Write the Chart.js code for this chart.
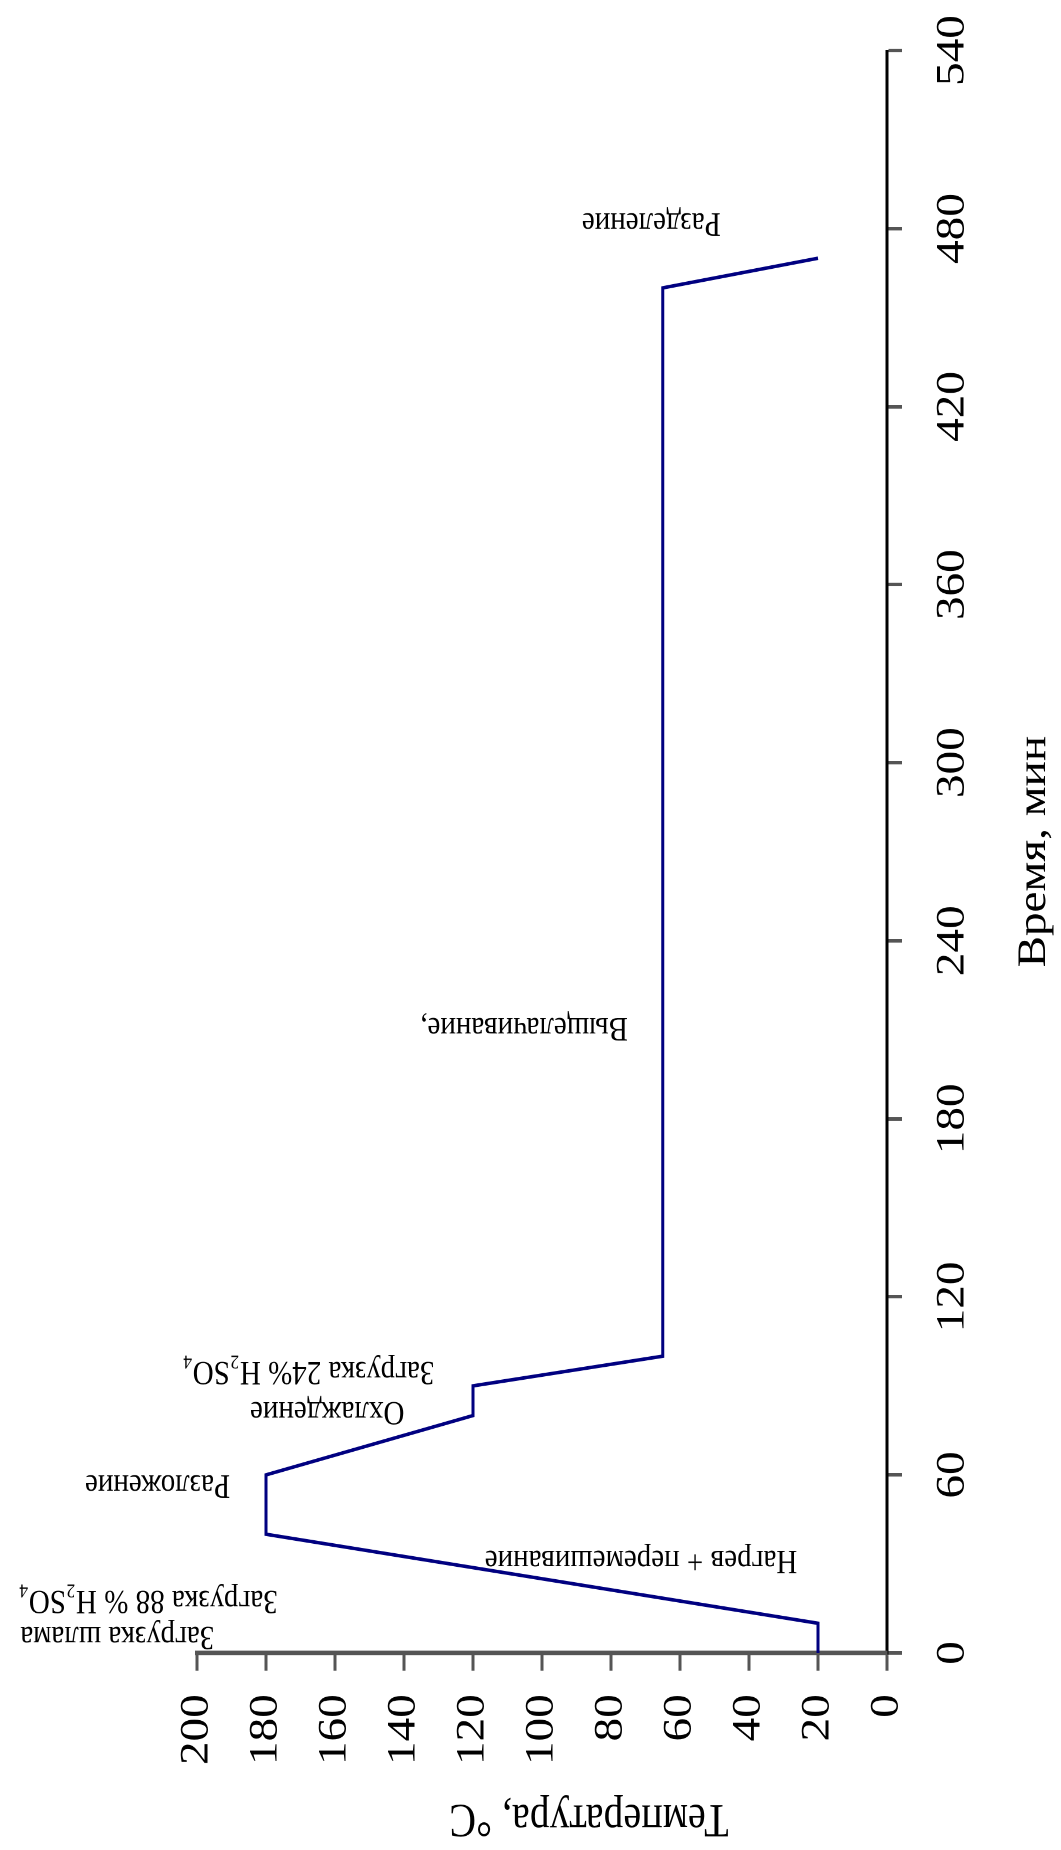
<!DOCTYPE html>
<html lang="ru">
<head>
<meta charset="utf-8">
<title>Температурный режим процесса</title>
<script src="https://cdn.jsdelivr.net/npm/chart.js@4/dist/chart.umd.min.js"></script>
<style>
  html, body { margin: 0; padding: 0; background: #fff; overflow: hidden; }
  body { width: 1061px; height: 1850px; position: relative; }
  /* the chart is laid out landscape and turned to stand upright along the page */
  #frame {
    position: absolute; left: 0; top: 0;
    width: 1568px; height: 1061px;
    transform-origin: 0 0;
    transform: translate(0px, 1850px) rotate(-90deg) scale(1.18, 1);
  }
</style>
</head>
<body>
<div id="frame"><canvas id="chart" width="1568" height="1061"></canvas></div>
<script>
// process temperature profile
const timeMin = [0, 10, 40, 60, 80, 90, 100, 460, 470];
const tempC   = [20, 20, 180, 180, 120, 120, 65, 65, 20];

// axis ticks
const timeTicks = [0, 60, 120, 180, 240, 300, 360, 420, 480, 540];
const tempTicks = [0, 20, 40, 60, 80, 100, 120, 140, 160, 180, 200];

// stage notes: text, time and temperature where each note starts
const noteText = [
  'Загрузка шлама',
  'Загрузка 88 % H₂SO₄',
  'Нагрев + перемешивание',
  'Разложение',
  'Охлаждение',
  'Загрузка 24% H₂SO₄',
  'Выщелачивание,',
  'Разделение'
];
const noteTime = [8.7, 20.8, 34.3, 59.8, 84.5, 98.0, 214.0, 485.2];
const noteTemp = [195.0, 176.6, 26.0, 190.4, 139.9, 131.2, 75.1, 48.2];

const axisTitleTime = 'Время, мин';
const axisTitleTemp = 'Температура, °C';

const SERIF = "'Liberation Serif', 'Times New Roman', serif";

const notesPlugin = {
  id: 'stageNotes',
  afterDraw(chart) {
    const { ctx, scales: { x, y }, chartArea } = chart;
    ctx.save();
    ctx.fillStyle = '#000';
    ctx.textBaseline = 'alphabetic';

    // stage notes, written along the time direction of each stage
    ctx.font = '29px ' + SERIF;
    ctx.textAlign = 'left';
    noteText.forEach((txt, i) => {
      ctx.save();
      ctx.translate(x.getPixelForValue(noteTime[i]), y.getPixelForValue(noteTemp[i]));
      ctx.rotate(-Math.PI / 2);
      ctx.fillText(txt, 0, 0);
      ctx.restore();
    });

    // axis titles
    ctx.font = '40px ' + SERIF;
    ctx.textAlign = 'center';
    ctx.fillText(axisTitleTime, (chartArea.left + chartArea.right) / 2, 1045);

    ctx.save();
    ctx.translate(38, 589);
    ctx.rotate(-Math.PI / 2);
    ctx.fillText(axisTitleTemp, 0, 0);
    ctx.restore();

    ctx.restore();
  }
};

// fixed box sizes for the axes so the plot area keeps its place
function fixBox(size, key) {
  return function (scale) {
    scale[key] = size;
    scale.paddingLeft = 0;
    scale.paddingRight = 0;
    scale.paddingTop = 0;
    scale.paddingBottom = 0;
  };
}

new Chart(document.getElementById('chart'), {
  type: 'line',
  data: {
    datasets: [{
      data: timeMin.map((t, i) => ({ x: t, y: tempC[i] })),
      borderColor: '#000080',
      borderWidth: 3,
      pointRadius: 0,
      tension: 0,
      fill: false
    }]
  },
  options: {
    responsive: false,
    animation: false,
    devicePixelRatio: 2,
    layout: { padding: { left: 0, top: 197, right: 43, bottom: 0 } },
    plugins: { legend: { display: false }, tooltip: { enabled: false } },
    scales: {
      x: {
        type: 'linear',
        min: 0, max: 540,
        afterBuildTicks(scale) { scale.ticks = timeTicks.map(v => ({ value: v })); },
        afterFit: fixBox(174, 'height'),
        ticks: {
          color: '#000',
          font: { family: SERIF, size: 40 },
          padding: 27,
          maxRotation: 0, minRotation: 0,
          autoSkip: false
        },
        grid: {
          drawOnChartArea: false,
          drawTicks: true,
          tickLength: 15,
          tickColor: '#555',
          tickWidth: 3
        },
        border: { display: true, color: '#000', width: 3 }
      },
      y: {
        type: 'linear',
        min: 0, max: 200,
        afterBuildTicks(scale) { scale.ticks = tempTicks.map(v => ({ value: v })); },
        afterFit: fixBox(167, 'width'),
        ticks: {
          color: '#000',
          font: { family: SERIF, size: 40 },
          padding: 20,
          autoSkip: false
        },
        grid: {
          drawOnChartArea: false,
          drawTicks: true,
          tickLength: 15,
          tickColor: '#555',
          tickWidth: 3
        },
        border: { display: true, color: '#555', width: 4 }
      }
    }
  },
  plugins: [notesPlugin]
});
</script>
</body>
</html>
